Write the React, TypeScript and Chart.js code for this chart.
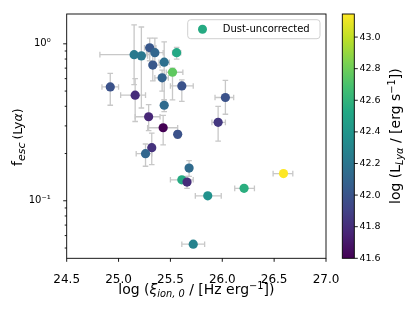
import React, { useEffect, useRef } from 'react';
import { Chart, registerables } from 'chart.js';

Chart.register(...registerables);

const FONT = "'DejaVu Sans', sans-serif";

// log (xi_ion,0 / [Hz erg^-1])
const logXi = [25.61, 24.92, 25.15, 25.22, 25.30, 25.35, 25.56, 25.33, 25.44, 25.52, 25.42, 25.61, 25.16, 25.44, 25.29, 25.43, 25.57, 25.32, 25.26, 25.68, 25.66, 25.86, 25.72, 26.03, 25.96, 26.59, 26.21];
// f_esc(Lya)
const fEsc = [0.136, 0.531, 0.853, 0.838, 0.944, 0.878, 0.878, 0.732, 0.764, 0.659, 0.607, 0.539, 0.471, 0.406, 0.343, 0.292, 0.265, 0.218, 0.1995, 0.1615, 0.1315, 0.1075, 0.0529, 0.455, 0.316, 0.149, 0.120];
// log (L_Lya / [erg s^-1]) -> colour
const logLya = [42.54, 41.99, 42.23, 42.22, 42.02, 42.11, 42.53, 42.02, 42.17, 42.76, 42.08, 41.99, 41.80, 42.14, 41.77, 41.60, 41.99, 41.82, 42.11, 42.14, 41.80, 42.37, 42.28, 41.99, 41.85, 43.146, 42.57];
// error bounds
const xiLow = [25.50, 24.84, 24.82, 25.16, 25.25, 25.27, 25.52, 25.30, 25.39, 25.46, 25.35, 25.50, 25.02, 25.41, 25.16, 25.28, 25.54, 25.29, 25.17, 25.65, 25.63, 25.74, 25.61, 25.93, 25.90, 26.49, 26.12];
const xiHigh = [25.72, 25.00, 25.30, 25.28, 25.36, 25.43, 25.60, 25.40, 25.49, 25.62, 25.48, 25.72, 25.26, 25.47, 25.40, 25.57, 25.60, 25.35, 25.32, 25.71, 25.69, 25.99, 25.83, 26.11, 26.03, 26.68, 26.31];
const fLow = [0.136, 0.406, 0.55, 0.39, 0.78, 0.73, 0.80, 0.58, 0.44, 0.44, 0.50, 0.43, 0.32, 0.37, 0.28, 0.227, 0.25, 0.17, 0.166, 0.143, 0.12, 0.1075, 0.0529, 0.356, 0.24, 0.149, 0.120];
const fHigh = [0.136, 0.649, 1.32, 1.28, 1.086, 1.086, 0.95, 0.88, 1.03, 0.70, 0.68, 0.59, 0.60, 0.44, 0.41, 0.35, 0.28, 0.27, 0.23, 0.18, 0.143, 0.1075, 0.0529, 0.585, 0.40, 0.149, 0.120];

const xTicks = [24.5, 25.0, 25.5, 26.0, 26.5, 27.0];
const yTickValues = [0.05, 0.06, 0.07, 0.08, 0.09, 0.1, 0.2, 0.3, 0.4, 0.5, 0.6, 0.7, 0.8, 0.9, 1];
const yTickLabels = ['', '', '', '', '', '10\u207B\u00B9', '', '', '', '', '', '', '', '', '10\u2070'];
const cbTicks = [41.6, 41.8, 42.0, 42.2, 42.4, 42.6, 42.8, 43.0];
const legendLabel = 'Dust-uncorrected';

const X_MIN = 24.5, X_MAX = 27.0;
const Y_MIN = 0.043, Y_MAX = 1.549;
const CB_MIN = Math.min(...logLya), CB_MAX = Math.max(...logLya);

const VIRIDIS = ['#440154', '#482475', '#414487', '#355f8d', '#2a788e', '#21918c', '#22a884', '#44bf70', '#7ad151', '#bddf26', '#fde725'];
function hexRgb(h: string) {
  return [parseInt(h.slice(1, 3), 16), parseInt(h.slice(3, 5), 16), parseInt(h.slice(5, 7), 16)];
}
function cmap(t: number) {
  t = Math.max(0, Math.min(1, t));
  const s = t * 10;
  const i = Math.min(9, Math.floor(s));
  const f = s - i;
  const a = hexRgb(VIRIDIS[i]), b = hexRgb(VIRIDIS[i + 1]);
  const c = a.map((v, k) => Math.round(v + (b[k] - v) * f));
  return `rgb(${c[0]},${c[1]},${c[2]})`;
}
function colorFor(v: number) {
  return cmap((v - CB_MIN) / (CB_MAX - CB_MIN));
}

type Seg = { t: string; s: number; it?: boolean; dy?: number };
function segFont(s: Seg) {
  return `${s.it ? 'italic ' : ''}${s.s}px ${FONT}`;
}
function drawRich(ctx: CanvasRenderingContext2D, segs: Seg[], cx: number, by: number) {
  let w = 0;
  for (const s of segs) { ctx.font = segFont(s); w += ctx.measureText(s.t).width; }
  let x = cx - w / 2;
  ctx.textAlign = 'left';
  ctx.textBaseline = 'alphabetic';
  for (const s of segs) {
    ctx.font = segFont(s);
    ctx.fillText(s.t, x, by + (s.dy || 0));
    x += ctx.measureText(s.t).width;
  }
}

const XLABEL: Seg[] = [
  { t: 'log (', s: 14 }, { t: '\u03BE', s: 14, it: true }, { t: 'ion, 0', s: 9.8, it: true, dy: 3 },
  { t: ' / [Hz erg', s: 14 }, { t: '\u22121', s: 9.8, dy: -5.5 }, { t: '])', s: 14 },
];
const YLABEL: Seg[] = [
  { t: 'f', s: 14 }, { t: 'esc', s: 11, it: true, dy: 3 }, { t: ' ', s: 9 }, { t: '(Ly', s: 12.5 }, { t: '\u03B1', s: 12.5, it: true }, { t: ')', s: 12.5 },
];
const CBLABEL: Seg[] = [
  { t: 'log (L', s: 14 }, { t: 'Ly\u03B1', s: 9.8, it: true, dy: 3 }, { t: ' / [erg s', s: 14 },
  { t: '\u22121', s: 9.8, dy: -5.5 }, { t: '])', s: 14 },
];

const decor = {
  id: 'decor',
  beforeDatasetsDraw(chart: any) {
    const { ctx, scales } = chart;
    const x = scales.x, y = scales.y;
    ctx.save();
    ctx.strokeStyle = '#c8c8c8';
    ctx.lineWidth = 1.3;
    const cap = 2.8;
    for (let i = 0; i < logXi.length; i++) {
      const px = x.getPixelForValue(logXi[i]);
      const py = y.getPixelForValue(fEsc[i]);
      ctx.beginPath();
      if (xiHigh[i] > xiLow[i]) {
        const x0 = x.getPixelForValue(xiLow[i]), x1 = x.getPixelForValue(xiHigh[i]);
        ctx.moveTo(x0, py); ctx.lineTo(x1, py);
        ctx.moveTo(x0, py - cap); ctx.lineTo(x0, py + cap);
        ctx.moveTo(x1, py - cap); ctx.lineTo(x1, py + cap);
      }
      if (fHigh[i] > fLow[i]) {
        const y0 = y.getPixelForValue(fLow[i]), y1 = y.getPixelForValue(fHigh[i]);
        ctx.moveTo(px, y0); ctx.lineTo(px, y1);
        ctx.moveTo(px - cap, y0); ctx.lineTo(px + cap, y0);
        ctx.moveTo(px - cap, y1); ctx.lineTo(px + cap, y1);
      }
      ctx.stroke();
    }
    ctx.restore();
  },
  afterDraw(chart: any) {
    const { ctx, chartArea: a, scales } = chart;
    const x = scales.x, y = scales.y, cb = scales.cb;
    ctx.save();
    // frame
    ctx.strokeStyle = '#000';
    ctx.lineWidth = 0.9;
    ctx.strokeRect(a.left, a.top, a.right - a.left, a.bottom - a.top);
    // tick marks
    ctx.beginPath();
    for (const v of xTicks) {
      const p = x.getPixelForValue(v);
      ctx.moveTo(p, a.bottom); ctx.lineTo(p, a.bottom + 3.5);
    }
    for (let i = 0; i < yTickValues.length; i++) {
      const p = y.getPixelForValue(yTickValues[i]);
      const len = yTickLabels[i] ? 3.5 : 2;
      ctx.moveTo(a.left, p); ctx.lineTo(a.left - len, p);
    }
    ctx.stroke();

    // colorbar
    const cbL = a.right + 16.3, cbW = 12;
    const top = cb.getPixelForValue(CB_MAX), bot = cb.getPixelForValue(CB_MIN);
    const g = ctx.createLinearGradient(0, bot, 0, top);
    VIRIDIS.forEach((c, i) => g.addColorStop(i / 10, c));
    ctx.fillStyle = g;
    ctx.fillRect(cbL, top, cbW, bot - top);
    ctx.strokeStyle = '#000';
    ctx.lineWidth = 0.9;
    ctx.strokeRect(cbL, top, cbW, bot - top);
    ctx.beginPath();
    ctx.fillStyle = '#000';
    ctx.font = `9.5px ${FONT}`;
    ctx.textAlign = 'left';
    ctx.textBaseline = 'middle';
    for (const v of cbTicks) {
      const p = cb.getPixelForValue(v);
      ctx.moveTo(cbL + cbW, p); ctx.lineTo(cbL + cbW + 3.5, p);
      ctx.fillText(v.toFixed(1), cbL + cbW + 5.2, p);
    }
    ctx.stroke();

    // axis titles
    ctx.fillStyle = '#000';
    drawRich(ctx, XLABEL, (a.left + a.right) / 2, 294);
    ctx.save();
    ctx.translate(22, (a.top + a.bottom) / 2 + 1);
    ctx.rotate(-Math.PI / 2);
    drawRich(ctx, YLABEL, 0, 0);
    ctx.restore();
    ctx.save();
    ctx.translate(400, (top + bot) / 2);
    ctx.rotate(-Math.PI / 2);
    drawRich(ctx, CBLABEL, 0, 0);
    ctx.restore();

    // legend
    const lx = a.right - 138.3, ly = a.top + 5.7, lw = 132.3, lh = 19;
    ctx.beginPath();
    ctx.roundRect(lx, ly, lw, lh, 3);
    ctx.fillStyle = 'rgba(255,255,255,0.8)';
    ctx.fill();
    ctx.strokeStyle = '#d0d0d0';
    ctx.lineWidth = 1;
    ctx.stroke();
    ctx.beginPath();
    ctx.arc(lx + 14.8, ly + lh / 2, 4.5, 0, Math.PI * 2);
    ctx.fillStyle = colorFor(logLya[0]);
    ctx.fill();
    ctx.fillStyle = '#000';
    ctx.font = `10px ${FONT}`;
    ctx.textAlign = 'left';
    ctx.textBaseline = 'middle';
    ctx.fillText(legendLabel, lx + 35, ly + lh / 2 + 0.5);
    ctx.restore();
  },
};

export default function App() {
  const ref = useRef<HTMLCanvasElement>(null);
  useEffect(() => {
    document.body.style.margin = '0';
    const canvas = ref.current!;
    const chart = new Chart(canvas, {
      type: 'scatter',
      data: {
        datasets: [{
          label: legendLabel,
          data: logXi.map((v, i) => ({ x: v, y: fEsc[i] })),
          backgroundColor: (c: any) => colorFor(logLya[c.dataIndex] ?? CB_MIN),
          borderWidth: 0,
          pointRadius: 4.6,
          pointHoverRadius: 4.6,
        }],
      },
      options: {
        animation: false,
        responsive: false,
        devicePixelRatio: 1,
        layout: { padding: { top: 9.3, right: 89, left: 0, bottom: 0 } },
        plugins: { legend: { display: false }, tooltip: { enabled: false } },
        scales: {
          x: {
            type: 'linear', min: X_MIN, max: X_MAX,
            afterBuildTicks: (s: any) => { s.ticks = xTicks.map((v) => ({ value: v })); },
            afterFit: (s: any) => { s.height = 52.7; },
            grid: { display: false },
            border: { display: false },
            ticks: {
              callback: (v: any) => Number(v).toFixed(1),
              font: { family: FONT, size: 12 }, color: '#000', padding: 6, autoSkip: false, maxRotation: 0,
            },
          },
          y: {
            type: 'logarithmic', min: Y_MIN, max: Y_MAX,
            afterBuildTicks: (s: any) => { s.ticks = yTickValues.map((v) => ({ value: v, major: v === 0.1 || v === 1 })); },
            afterFit: (s: any) => { s.width = 66.7; },
            grid: { display: false },
            border: { display: false },
            ticks: {
              callback: (_v: any, i: number) => yTickLabels[i],
              font: { family: FONT, size: 10 }, color: '#000', padding: 8, autoSkip: false,
            },
          },
          cb: {
            type: 'linear', axis: 'y', position: 'right', display: false, min: CB_MIN, max: CB_MAX,
          },
        },
      },
      plugins: [decor],
    } as any);
    return () => chart.destroy();
  }, []);
  return (
    <div style={{ position: 'fixed', left: 0, top: 0, width: 415, height: 311, background: '#fff' }}>
      <canvas ref={ref} width={415} height={311} style={{ width: 415, height: 311, display: 'block' }} />
    </div>
  );
}
